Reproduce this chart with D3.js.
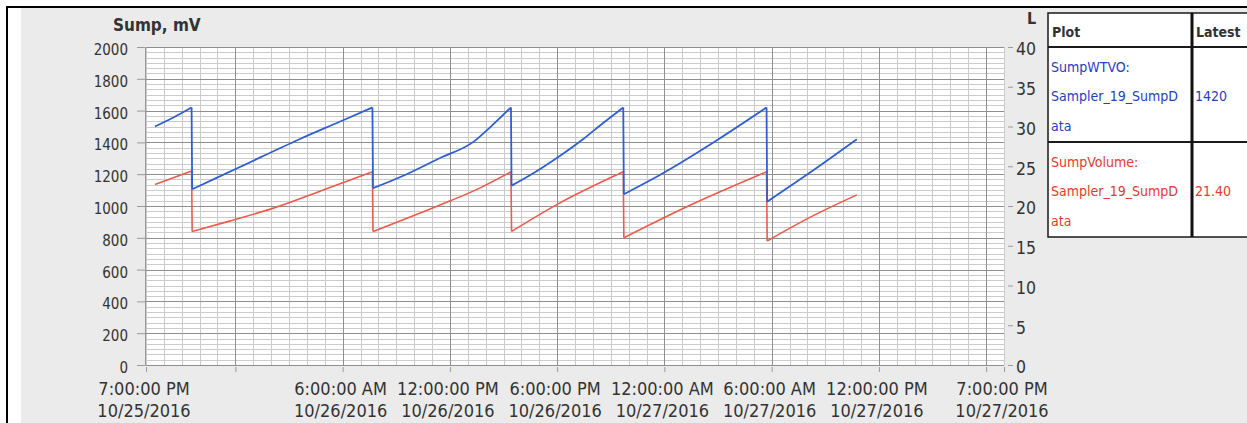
<!DOCTYPE html>
<html lang="en">
<head>
   <meta charset="UTF-8">
   <title>Sump</title>
   <style>
      body {
         margin: 0;
         background: #fff;
      }

      text {
         font-family: 'DejaVu Sans Condensed', 'DejaVu Sans', sans-serif;
         font-stretch: condensed;
         fill: #333;
      }

      .grid-minor line {
         stroke: #cbcbcb;
      }

      .grid-major line {
         stroke: #8f8f8f;
      }

      .axis path {
         stroke: #999;
      }

      .axis line {
         stroke: #999;
      }
   </style>
   <script src="https://cdn.jsdelivr.net/npm/d3@7"></script>
</head>
<body>
   <div class="chart"></div>
   <script>
      // SumpWTVO (mV, left axis)
      const blueTimes = ['2016-10-25 19:30', '2016-10-25 20:30', '2016-10-25 21:33', '2016-10-25 21:35',
         '2016-10-26 00:15', '2016-10-26 03:35', '2016-10-26 05:50', '2016-10-26 07:40', '2016-10-26 07:42',
         '2016-10-26 09:35', '2016-10-26 11:25', '2016-10-26 13:20', '2016-10-26 14:15', '2016-10-26 15:25',
         '2016-10-26 15:27', '2016-10-26 16:40', '2016-10-26 18:05', '2016-10-26 19:30', '2016-10-26 20:25',
         '2016-10-26 21:42', '2016-10-26 21:44', '2016-10-26 23:55', '2016-10-27 02:55', '2016-10-27 05:43',
         '2016-10-27 05:45', '2016-10-27 08:10', '2016-10-27 10:46']
      const blueValues = [1500, 1555, 1620, 1105,
         1245, 1420, 1530, 1620, 1112,
         1200, 1300, 1405, 1495, 1620,
         1128, 1206, 1310, 1425, 1508,
         1620, 1074, 1206, 1412, 1620,
         1027, 1212, 1420]

      // SumpVolume (L, right axis)
      const redTimes = ['2016-10-25 19:30', '2016-10-25 21:33', '2016-10-25 21:35', '2016-10-25 23:40',
         '2016-10-26 02:05', '2016-10-26 05:15', '2016-10-26 07:40', '2016-10-26 07:42', '2016-10-26 11:25',
         '2016-10-26 13:20', '2016-10-26 15:25', '2016-10-26 15:27', '2016-10-26 18:05', '2016-10-26 21:42',
         '2016-10-26 21:44', '2016-10-27 01:15', '2016-10-27 05:43', '2016-10-27 05:45', '2016-10-27 08:10',
         '2016-10-27 10:46']
      const redValues = [22.7, 24.4, 16.8, 18.1,
         19.7, 22.3, 24.3, 16.8, 20.1,
         21.9, 24.3, 16.8, 20.3, 24.3,
         16.0, 19.9, 24.3, 15.6, 18.6,
         21.4]

      const timeDomain = ['2016-10-25 19:00', '2016-10-27 19:00']
      const labelTimes = ['2016-10-25 19:00', '2016-10-26 06:00', '2016-10-26 12:00', '2016-10-26 18:00',
         '2016-10-27 00:00', '2016-10-27 06:00', '2016-10-27 12:00', '2016-10-27 19:00']
      const leftTicks = [0, 200, 400, 600, 800, 1000, 1200, 1400, 1600, 1800, 2000]
      const rightTicks = [0, 5, 10, 15, 20, 25, 30, 35, 40]

      const legendHeader = ['Plot', 'Latest']
      const seriesNames = [['SumpWTVO:', 'Sampler_19_SumpD', 'ata'], ['SumpVolume:', 'Sampler_19_SumpD', 'ata']]
      const latestValues = ['1420', '21.40']
      const seriesColors = ['#2f5fd6', '#f05a4a']
      const textColors = ['#2340c4', '#e8392b']

      const parse = d3.timeParse('%Y-%m-%d %H:%M')

      const W = 1247, H = 423
      const plot = { left: 146, right: 1004, top: 47, bottom: 365 }

      const svg = d3.select('.chart').append('svg')
         .attr('width', W)
         .attr('height', H)

      // frame
      svg.append('rect').attr('width', W).attr('height', H).attr('fill', '#fff')
      svg.append('rect').attr('x', 21).attr('y', 8).attr('width', W - 21).attr('height', H - 8).attr('fill', '#ebebeb')
      svg.append('rect').attr('x', 6).attr('y', 6).attr('width', W - 6).attr('height', 2).attr('fill', '#000')
      svg.append('rect').attr('x', 6).attr('y', 6).attr('width', 2).attr('height', H - 6).attr('fill', '#000')

      // scales
      const x = d3.scaleTime()
         .domain(timeDomain.map(parse))
         .range([plot.left, plot.right])
      const yLeft = d3.scaleLinear().domain([0, 2000]).range([plot.bottom, plot.top])
      const yRight = d3.scaleLinear().domain([0, 40]).range([plot.bottom, plot.top])

      svg.append('rect')
         .attr('x', plot.left).attr('y', plot.top)
         .attr('width', plot.right - plot.left).attr('height', plot.bottom - plot.top)
         .attr('fill', '#fff')

      // grid
      const hours = d3.timeHour.range(x.domain()[0], d3.timeHour.offset(x.domain()[1], 1))
      const sixHours = hours.filter(d => d.getHours() % 6 === 0)
      const minorY = d3.range(0, 2000.01, 200 / 6)

      const minor = svg.append('g').attr('class', 'grid-minor')
      minor.selectAll('.h').data(minorY).enter().append('line')
         .attr('x1', plot.left).attr('x2', plot.right)
         .attr('y1', d => Math.round(yLeft(d)) + 0.5).attr('y2', d => Math.round(yLeft(d)) + 0.5)
      minor.selectAll('.v').data(hours).enter().append('line')
         .attr('x1', d => Math.round(x(d)) + 0.5).attr('x2', d => Math.round(x(d)) + 0.5)
         .attr('y1', plot.top).attr('y2', plot.bottom)

      const major = svg.append('g').attr('class', 'grid-major')
      major.selectAll('.h').data(leftTicks).enter().append('line')
         .attr('x1', plot.left).attr('x2', plot.right)
         .attr('y1', d => Math.round(yLeft(d)) + 0.5).attr('y2', d => Math.round(yLeft(d)) + 0.5)
      major.selectAll('.v').data(sixHours).enter().append('line')
         .attr('x1', d => Math.round(x(d)) + 0.5).attr('x2', d => Math.round(x(d)) + 0.5)
         .attr('y1', plot.top).attr('y2', plot.bottom)

      // axes
      const leftAxis = svg.append('g')
         .attr('class', 'axis')
         .attr('transform', `translate(${plot.left - 1}, 0)`)
         .call(d3.axisLeft(yLeft).tickValues(leftTicks).tickSize(8).tickSizeOuter(0).tickPadding(9)
            .tickFormat(d3.format('d')))
      leftAxis.selectAll('text').attr('font-size', 15).attr('dy', '0.5em').style('fill', '#333')

      const rightAxis = svg.append('g')
         .attr('class', 'axis')
         .attr('transform', `translate(${plot.right + 4}, 0)`)
         .call(d3.axisRight(yRight).tickValues(rightTicks).tickSize(5).tickPadding(3))
      rightAxis.select('.domain').remove()
      rightAxis.selectAll('text').attr('font-size', 17.5).attr('dy', '0.45em').style('fill', '#333')

      const tickTimes = [x.domain()[0]].concat(sixHours, [x.domain()[1]])
      const bottomAxis = svg.append('g')
         .attr('class', 'axis')
         .attr('transform', `translate(0, ${plot.bottom + 2})`)
         .call(d3.axisBottom(x).tickValues(tickTimes).tickSize(5).tickFormat(() => ''))
      bottomAxis.select('.domain').remove()

      const fmtTime = d3.timeFormat('%-I:%M:%S %p')
      const fmtDate = d3.timeFormat('%m/%d/%Y')
      const xLabels = svg.append('g').selectAll('text')
         .data(labelTimes.map(parse))
         .enter().append('text')
         .attr('text-anchor', 'middle')
         .attr('font-size', 18)
         .attr('transform', d => `translate(${x(d) - 2}, 0)`)
      xLabels.append('tspan').attr('x', 0).attr('y', 395).text(fmtTime)
      xLabels.append('tspan').attr('x', 0).attr('y', 417).text(fmtDate)

      // axis titles
      svg.append('text').attr('x', 113).attr('y', 31)
         .attr('font-size', 17).attr('font-weight', 'bold').text('Sump, mV')
      svg.append('text').attr('x', 1027).attr('y', 24)
         .attr('font-size', 16).attr('font-weight', 'bold').text('L')

      // lines: smooth rising runs, straight drops between them
      function drawSeries(times, values, y, color, width) {
         const data = times.map((t, i) => ({ t: parse(t), v: values[i] }))
         const runs = [[data[0]]]
         for (let i = 1; i < data.length; i++) {
            if (data[i].v < data[i - 1].v) runs.push([])
            runs[runs.length - 1].push(data[i])
         }
         const g = svg.append('g')
            .attr('fill', 'none')
            .attr('stroke', color)
            .attr('stroke-width', width)
            .attr('stroke-linejoin', 'round')
         const smooth = d3.line().curve(d3.curveMonotoneX).x(d => x(d.t)).y(d => y(d.v))
         const straight = d3.line().x(d => x(d.t)).y(d => y(d.v))
         g.selectAll('.run').data(runs).enter().append('path').attr('d', smooth)
         g.selectAll('.drop').data(runs.slice(1).map((r, i) => [runs[i][runs[i].length - 1], r[0]]))
            .enter().append('path').attr('d', straight)
      }

      drawSeries(redTimes, redValues, yRight, seriesColors[1], 1.6)
      drawSeries(blueTimes, blueValues, yLeft, seriesColors[0], 1.8)

      // legend table
      const table = { left: 1048, split: 1192, right: 1260, rows: [13, 47, 142, 237] }
      const legend = svg.append('g')
      legend.append('rect')
         .attr('x', table.left).attr('y', table.rows[0])
         .attr('width', table.right - table.left).attr('height', table.rows[3] - table.rows[0])
         .attr('fill', '#fff').attr('stroke', '#1a1a1a').attr('stroke-width', 1.5)
      legend.selectAll('.row').data(table.rows.slice(1, 3)).enter().append('line')
         .attr('x1', table.left).attr('x2', table.right)
         .attr('y1', d => d).attr('y2', d => d)
         .attr('stroke', '#1a1a1a').attr('stroke-width', 2)
      legend.append('line')
         .attr('x1', table.split).attr('x2', table.split)
         .attr('y1', table.rows[0]).attr('y2', table.rows[3])
         .attr('stroke', '#111').attr('stroke-width', 3)

      legend.selectAll('.head').data(legendHeader).enter().append('text')
         .attr('x', (d, i) => i === 0 ? table.left + 4 : table.split + 4)
         .attr('y', 37)
         .attr('font-size', 14).attr('font-weight', 'bold')
         .text(d => d)

      seriesNames.forEach((lines, i) => {
         const top = table.rows[i + 1]
         legend.selectAll('.name' + i).data(lines).enter().append('text')
            .attr('x', table.left + 3)
            .attr('y', (d, j) => top + 24.5 + j * 29.5)
            .attr('font-size', 14)
            .style('fill', textColors[i])
            .text(d => d)
         legend.append('text')
            .attr('x', table.split + 3)
            .attr('y', top + 54)
            .attr('font-size', 14)
            .style('fill', textColors[i])
            .text(latestValues[i])
      })
   </script>
</body>
</html>
